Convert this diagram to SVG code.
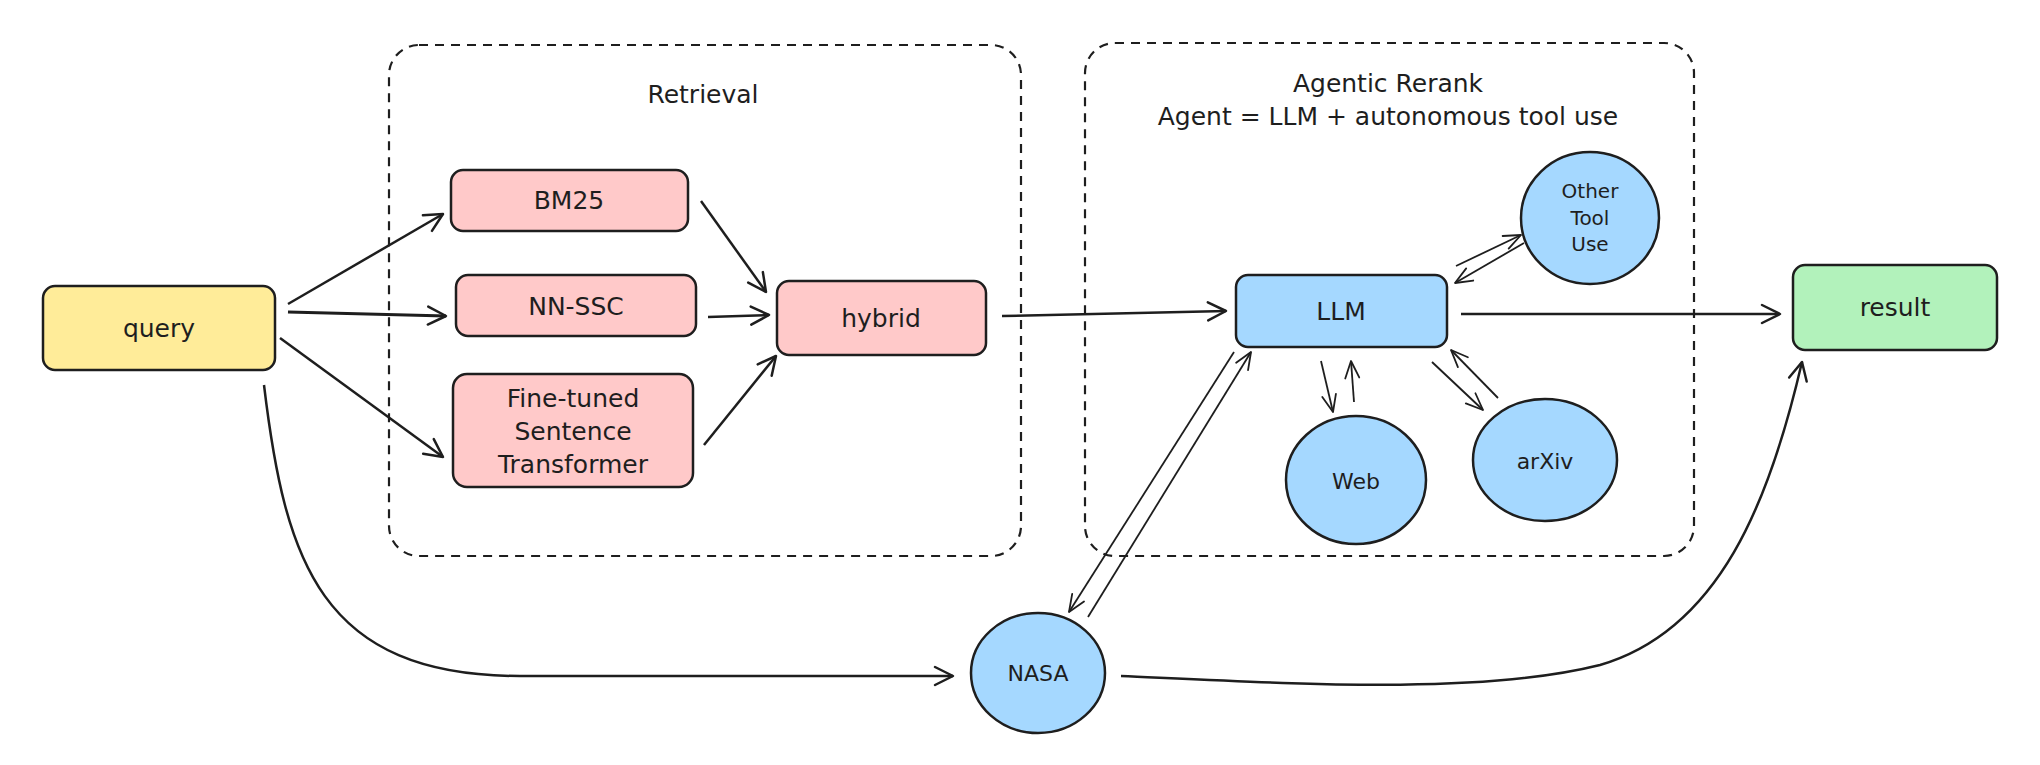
<svg xmlns="http://www.w3.org/2000/svg" width="2040" height="765" viewBox="0 0 2040 765">
<defs>
<style>
.t{font-family:"DejaVu Sans","Liberation Sans",sans-serif;font-size:25px;fill:#1e1e1e;text-anchor:middle;dominant-baseline:central}
.s{font-size:20px}
.m{font-size:22px}
.box{stroke:#1e1e1e;stroke-width:2.5}
.grp{fill:none;stroke:#1e1e1e;stroke-width:2.2;stroke-dasharray:9 7}
.c{fill:none;stroke:#1e1e1e;stroke-width:2.5;marker-end:url(#ah)}
.c2{fill:none;stroke:#1e1e1e;stroke-width:1.8;marker-end:url(#ah2)}
</style>
<marker id="ah" viewBox="-20 -12 24 24" refX="0" refY="0" markerWidth="24" markerHeight="24" markerUnits="userSpaceOnUse" orient="auto">
<path d="M-18 -9 L0 0 L-18 9" fill="none" stroke="#1e1e1e" stroke-width="2.5" stroke-linecap="round" stroke-linejoin="round"/>
</marker>
<marker id="ah2" viewBox="-20 -12 24 24" refX="0" refY="0" markerWidth="24" markerHeight="24" markerUnits="userSpaceOnUse" orient="auto">
<path d="M-17 -7 L0 0 L-17 7" fill="none" stroke="#1e1e1e" stroke-width="1.8" stroke-linecap="round" stroke-linejoin="round"/>
</marker>
</defs>
<rect width="2040" height="765" fill="#ffffff"/>

<g id="group-retrieval">
<rect class="grp" x="389" y="45" width="632" height="511" rx="30"/>
<text class="t" x="703" y="94">Retrieval</text>
</g>
<g id="group-agentic">
<rect class="grp" x="1085" y="43" width="609" height="513" rx="30"/>
<text class="t" x="1388" y="83">Agentic Rerank</text>
<text class="t" x="1388" y="116">Agent = LLM + autonomous tool use</text>
</g>

<g id="connectors">
<path class="c" d="M288 304 L443 214"/>
<path class="c" d="M288 312 L446 316" style="stroke-width:3.2"/>
<path class="c" d="M280 338 L443 457"/>
<path class="c" d="M701 201 L766 292"/>
<path class="c" d="M708 317 L769 315"/>
<path class="c" d="M704 445 L776 356"/>
<path class="c" d="M1002 316 L1226 311"/>
<path class="c" d="M1461 314 L1780 314"/>
<path class="c" d="M264 385 C 285 560, 320 676, 520 676 L 953 676"/>
<path class="c" d="M1121 676 C 1300 684, 1480 695, 1600 665 C 1720 630, 1770 500, 1802 362"/>
<path class="c2" d="M1234 352 L1069 612"/>
<path class="c2" d="M1088 617 L1251 352"/>
<path class="c2" d="M1456 266 L1521 235"/>
<path class="c2" d="M1524 243 L1455 283"/>
<path class="c2" d="M1321 361 L1333 412"/>
<path class="c2" d="M1354 402 L1351 361"/>
<path class="c2" d="M1432 362 L1483 410"/>
<path class="c2" d="M1498 398 L1451 350"/>
</g>

<g id="node-query">
<rect class="box" x="43" y="286" width="232" height="84" rx="12" fill="#ffec99"/>
<text class="t" x="159" y="328">query</text>
</g>
<g id="node-bm25">
<rect class="box" x="451" y="170" width="237" height="61" rx="12" fill="#ffc9c9"/>
<text class="t" x="569" y="200">BM25</text>
</g>
<g id="node-nnssc">
<rect class="box" x="456" y="275" width="240" height="61" rx="12" fill="#ffc9c9"/>
<text class="t" x="576" y="306">NN-SSC</text>
</g>
<g id="node-finetuned">
<rect class="box" x="453" y="374" width="240" height="113" rx="14" fill="#ffc9c9"/>
<text class="t" x="573" y="398">Fine-tuned</text>
<text class="t" x="573" y="431">Sentence</text>
<text class="t" x="573" y="464">Transformer</text>
</g>
<g id="node-hybrid">
<rect class="box" x="777" y="281" width="209" height="74" rx="12" fill="#ffc9c9"/>
<text class="t" x="881" y="318">hybrid</text>
</g>
<g id="node-llm">
<rect class="box" x="1236" y="275" width="211" height="72" rx="12" fill="#a5d8ff"/>
<text class="t" x="1341" y="311">LLM</text>
</g>
<g id="node-other">
<ellipse class="box" cx="1590" cy="218" rx="69" ry="66" fill="#a5d8ff"/>
<text class="t s" x="1590" y="191">Other</text>
<text class="t s" x="1590" y="218">Tool</text>
<text class="t s" x="1590" y="244">Use</text>
</g>
<g id="node-web">
<ellipse class="box" cx="1356" cy="480" rx="70" ry="64" fill="#a5d8ff"/>
<text class="t m" x="1356" y="481">Web</text>
</g>
<g id="node-arxiv">
<ellipse class="box" cx="1545" cy="460" rx="72" ry="61" fill="#a5d8ff"/>
<text class="t m" x="1545" y="461">arXiv</text>
</g>
<g id="node-nasa">
<ellipse class="box" cx="1038" cy="673" rx="67" ry="60" fill="#a5d8ff"/>
<text class="t m" x="1038" y="673">NASA</text>
</g>
<g id="node-result">
<rect class="box" x="1793" y="265" width="204" height="85" rx="12" fill="#b2f2bb"/>
<text class="t" x="1895" y="307">result</text>
</g>
</svg>
